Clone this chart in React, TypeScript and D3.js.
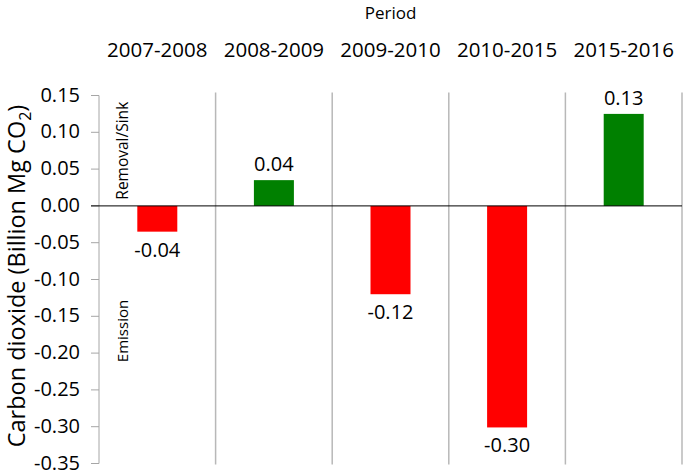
import * as d3 from 'd3';

const periods = ['2007-2008', '2008-2009', '2009-2010', '2010-2015', '2015-2016'];
const values = [-0.035, 0.035, -0.12, -0.301, 0.125];
const valueLabels = ['-0.04', '0.04', '-0.12', '-0.30', '0.13'];
const yTicks = [0.15, 0.1, 0.05, 0, -0.05, -0.1, -0.15, -0.2, -0.25, -0.3, -0.35];

const W = 685;
const H = 472;
const FONT = '"Open Sans", sans-serif';

export default function App() {
  const m = { top: 95.5, right: 3, bottom: 8.5, left: 99 };
  const x = d3.scaleBand<string>().domain(periods).range([m.left, W - m.right]);
  const xb = x.copy().paddingInner(0.657).paddingOuter(0.3285);
  const y = d3.scaleLinear().domain([0.15, -0.35]).range([m.top, H - m.bottom]);
  const gridTop = y(0.15) - 3;

  return (
    <svg width={W} height={H} style={{ position: 'absolute', left: 0, top: 0, background: '#fff' }}
      fontFamily={FONT}>
      {/* title */}
      <text x={(m.left + W - m.right) / 2} y={19} textAnchor="middle" fontSize={17} fill="#000">Period</text>

      {/* category labels at top */}
      {periods.map(p => (
        <text key={p} x={x(p)! + x.bandwidth() / 2} y={57} textAnchor="middle" fontSize={20.5} fill="#000">{p}</text>
      ))}

      {/* vertical separators */}
      {periods.map((p, i) => (
        <line key={'g' + i} x1={x(p)! + x.bandwidth()} x2={x(p)! + x.bandwidth()}
          y1={gridTop} y2={y(-0.35) + 1} stroke="#b8b8b8" strokeWidth={1.5} />
      ))}

      {/* y axis */}
      <line x1={m.left} x2={m.left} y1={y(0.15)} y2={y(-0.35)} stroke="#a6a6a6" strokeWidth={1} />
      {yTicks.map(t => (
        <g key={t}>
          <line x1={m.left - 8} x2={m.left} y1={y(t)} y2={y(t)} stroke="#a6a6a6" strokeWidth={1} />
          <text x={m.left - 19} y={y(t)} dy="0.3em" textAnchor="end" fontSize={20} fill="#000">{t.toFixed(2)}</text>
        </g>
      ))}

      {/* bars */}
      {periods.map((p, i) => {
        const v = values[i];
        return (
          <rect key={'b' + i} x={xb(p)} width={xb.bandwidth()}
            y={y(Math.max(0, v))} height={Math.abs(y(v) - y(0))}
            fill={v < 0 ? '#ff0000' : '#008000'} />
        );
      })}

      {/* zero line */}
      <line x1={m.left - 8} x2={W - m.right} y1={y(0)} y2={y(0)} stroke="#000" strokeWidth={1} />

      {/* value labels */}
      {periods.map((p, i) => {
        const v = values[i];
        return (
          <text key={'l' + i} x={xb(p)! + xb.bandwidth() / 2}
            y={v < 0 ? y(v) + 25 : y(v) - 9} textAnchor="middle" fontSize={20} fill="#000">
            {valueLabels[i]}
          </text>
        );
      })}

      {/* annotations */}
      <text transform={`translate(128,${y(0.075)}) rotate(-90)`} textAnchor="middle" fontSize={15.5} fill="#000">Removal/Sink</text>
      <text transform={`translate(128,${y(-0.17)}) rotate(-90)`} textAnchor="middle" fontSize={15} fill="#000">Emission</text>

      {/* y title */}
      <text transform={`translate(25,276) rotate(-90)`} textAnchor="middle" fontSize={23.5} fill="#000">
        Carbon dioxide (Billion Mg CO<tspan fontSize={16} dy={6}>2</tspan><tspan dy={-6}>)</tspan>
      </text>
    </svg>
  );
}
